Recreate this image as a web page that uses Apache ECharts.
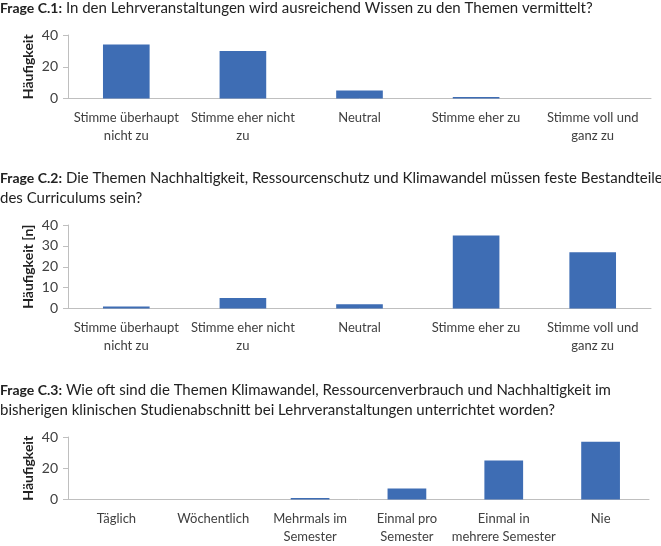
<!DOCTYPE html>
<html>
<head>
<meta charset="utf-8">
<style>
  html, body { margin: 0; padding: 0; background: #fff; }
  #chart { width: 661px; height: 546px; }
</style>
<script src="https://cdn.jsdelivr.net/npm/echarts@6/dist/echarts.min.js"></script>
</head>
<body>
<div id="chart"></div>
<script>
const agreeCategories = [
  "Stimme überhaupt\nnicht zu",
  "Stimme eher nicht\nzu",
  "Neutral",
  "Stimme eher zu",
  "Stimme voll und\nganz zu",
];
const frequencyCategories = [
  "Täglich",
  "Wöchentlich",
  "Mehrmals im\nSemester",
  "Einmal pro\nSemester",
  "Einmal in\nmehrere Semester",
  "Nie",
];
const c1Values = [34, 30, 5, 1, 0];
const c2Values = [1, 5, 2, 35, 27];
const c3Values = [0, 0, 1, 7, 25, 37];

const c1Ticks = [0, 20, 40];
const c2Ticks = [0, 10, 20, 30, 40];
const c3Ticks = [0, 20, 40];

const titles = [
  "{b|Frage C.1:} In den Lehrveranstaltungen wird ausreichend Wissen zu den Themen vermittelt?",
  "{b|Frage C.2:} Die Themen Nachhaltigkeit, Ressourcenschutz und Klimawandel müssen feste Bestandteile\ndes Curriculums sein?",
  "{b|Frage C.3:} Wie oft sind die Themen Klimawandel, Ressourcenverbrauch und Nachhaltigkeit im\nbisherigen klinischen Studienabschnitt bei Lehrveranstaltungen unterrichtet worden?",
];
const yNames = ["Häufigkeit", "Häufigkeit [n]", "Häufigkeit"];

const font = "Lato, 'Open Sans', sans-serif";
const barColor = "#3e6db4";
const axisGray = "#bfbfbf";
const textColor = "#404040";

const grids = [
  { left: 68, right: 10, top: 35, height: 63.5 },
  { left: 68, right: 10, top: 225, height: 83.5 },
  { left: 68, right: 12, top: 437, height: 62.5 },
];
const titleTops = [-2, 168, 380];

const tickSets = [c1Ticks, c2Ticks, c3Ticks];
const categorySets = [agreeCategories, agreeCategories, frequencyCategories];
const valueSets = [c1Values, c2Values, c3Values];

const option = {
  animation: false,
  title: titles.map((text, i) => ({
    text,
    left: 0,
    top: titleTops[i],
    padding: 0,
    textStyle: {
      fontFamily: font,
      fontSize: 15,
      fontWeight: "normal",
      color: "#222",
      lineHeight: 20,
      rich: {
        b: { fontFamily: font, fontSize: 14, fontWeight: "bold", color: "#222", lineHeight: 20 },
      },
    },
  })),
  grid: grids,
  xAxis: categorySets.map((data, i) => ({
    type: "category",
    gridIndex: i,
    data,
    axisLine: { lineStyle: { color: axisGray, width: 1 } },
    axisTick: { alignWithLabel: false, length: 4, lineStyle: { color: axisGray } },
    axisLabel: {
      interval: 0,
      margin: 10,
      fontFamily: font,
      fontSize: 13,
      lineHeight: 18,
      color: textColor,
    },
  })),
  yAxis: tickSets.map((ticks, i) => ({
    type: "value",
    gridIndex: i,
    min: ticks[0],
    max: ticks[ticks.length - 1],
    interval: ticks[1] - ticks[0],
    name: yNames[i],
    nameLocation: "middle",
    nameGap: 33,
    nameMoveOverlap: false,
    nameTextStyle: { fontFamily: font, fontSize: 14, fontWeight: "bold", color: "#222" },
    axisLine: { show: true, lineStyle: { color: axisGray } },
    axisTick: { show: true, length: 5, lineStyle: { color: axisGray } },
    axisLabel: { margin: 10, fontFamily: font, fontSize: 14, color: textColor },
    splitLine: { show: false },
  })),
  series: valueSets.map((data, i) => ({
    type: "bar",
    xAxisIndex: i,
    yAxisIndex: i,
    data,
    barCategoryGap: "60%",
    itemStyle: { color: barColor },
  })),
};

const chart = echarts.init(document.getElementById("chart"), null, { renderer: "canvas" });
chart.setOption(option);
</script>
</body>
</html>
